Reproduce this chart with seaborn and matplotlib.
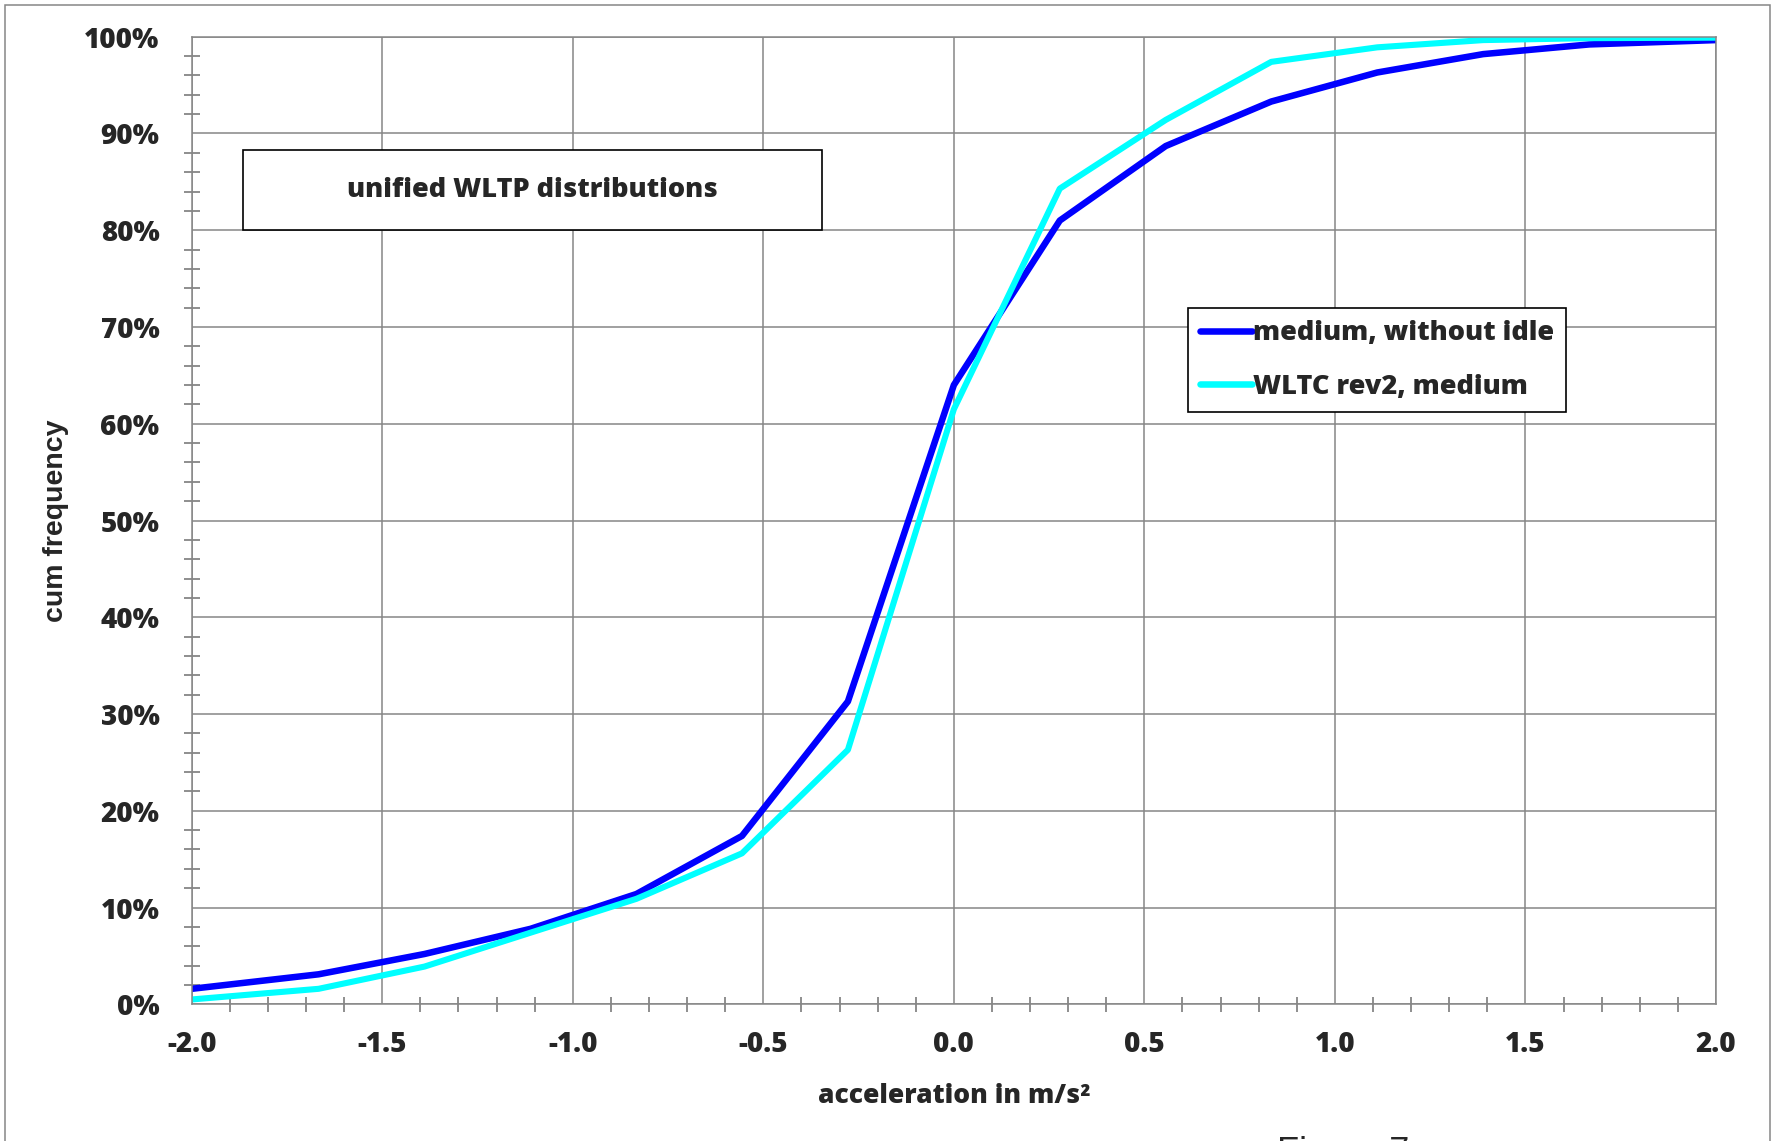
import numpy as np
import pandas as pd
import matplotlib
matplotlib.use("Agg")
import matplotlib.pyplot as plt
from matplotlib.ticker import MultipleLocator, PercentFormatter
from matplotlib.patches import Rectangle
import seaborn as sns

# ---- data ----
accel = [-2.0, -1.667, -1.389, -1.111, -0.833, -0.556, -0.278, 0.0,
         0.278, 0.556, 0.833, 1.111, 1.389, 1.667, 2.0]
medium_without_idle = [1.6, 3.1, 5.2, 7.8, 11.4, 17.4, 31.3, 64.0,
                       81.0, 88.7, 93.3, 96.3, 98.2, 99.2, 99.65]
wltc_rev2_medium = [0.5, 1.6, 3.9, 7.4, 10.9, 15.6, 26.3, 61.5,
                    84.3, 91.4, 97.4, 98.9, 99.65, 99.85, 99.9]
series_names = ["medium, without idle", "WLTC rev2, medium"]
series_colors = ["#0000FF", "#00FFFF"]
title_text = "unified WLTP distributions"
x_label = "acceleration in m/s²"
y_label = "cum frequency"

df = pd.DataFrame({
    "accel": accel * 2,
    "cum": medium_without_idle + wltc_rev2_medium,
    "series": [series_names[0]] * len(accel) + [series_names[1]] * len(accel),
})

sns.set_theme(style="white")
plt.rcParams["font.family"] = ["Open Sans", "DejaVu Sans"]
FW = 800

W, H = 1776, 1141
fig = plt.figure(figsize=(W / 100, H / 100), dpi=100)
ax = fig.add_axes([191.7 / W, 1 - 1004.3 / H, (1716 - 191.7) / W, (1004.3 - 36.7) / H])

sns.lineplot(data=df, x="accel", y="cum", hue="series", hue_order=series_names,
             palette=series_colors, ax=ax, linewidth=4.7, legend=False,
             sort=False, estimator=None)
ax.lines[1].set_linewidth(4.4)

ax.set_xlim(-2, 2)
ax.set_ylim(0, 100)
ax.xaxis.set_major_locator(MultipleLocator(0.5))
ax.xaxis.set_minor_locator(MultipleLocator(0.1))
ax.yaxis.set_major_locator(MultipleLocator(10))
ax.yaxis.set_minor_locator(MultipleLocator(2))
ax.yaxis.set_major_formatter(PercentFormatter(xmax=100, decimals=0))
ax.xaxis.set_major_formatter(matplotlib.ticker.FormatStrFormatter("%.1f"))

gc = "#868686"
ax.grid(True, which="major", color=gc, linewidth=1.1)
ax.set_axisbelow(True)
for s in ax.spines.values():
    s.set_color(gc)
    s.set_linewidth(1.1)

ax.tick_params(axis="x", which="major", direction="inout", length=13, width=1.3,
               color=gc, pad=12, labelsize=20)
ax.tick_params(axis="x", which="minor", direction="inout", length=10.8, width=1.3,
               color=gc, bottom=True)
ax.tick_params(axis="y", which="major", direction="out", length=7.2, width=1.3,
               color=gc, pad=16, labelsize=20)
ax.tick_params(axis="y", which="minor", direction="inout", length=11.5, width=1.3,
               color=gc, left=True)
for lab in ax.get_xticklabels() + ax.get_yticklabels():
    lab.set_fontweight(FW)

ax.set_xlabel(x_label, fontsize=19, fontweight=FW, labelpad=17)
ax.set_ylabel(y_label, fontsize=20.5, fontweight="bold",
              family=["Liberation Sans", "DejaVu Sans"], labelpad=11)

# title box
bx0, bx1, by0, by1 = -1.865, -0.346, 80.0, 88.3
ax.add_patch(Rectangle((bx0, by0), bx1 - bx0, by1 - by0, facecolor="white",
                       edgecolor="black", linewidth=1.2, zorder=5))
ax.text((bx0 + bx1) / 2, (by0 + by1) / 2, title_text, ha="center", va="center",
        fontsize=19.5, fontweight=FW, zorder=6)

# legend
handles = [plt.Line2D([], [], color=c, linewidth=4.7, solid_capstyle="round")
           for c in series_colors]
leg = ax.legend(handles, series_names, loc="upper left",
                bbox_to_anchor=((1188.3 - 191.7) / (1716 - 191.7), 1 - (308.3 - 36.7) / (1004.3 - 36.7)),
                prop={"family": "Open Sans", "weight": FW, "size": 19.5},
                frameon=True, fancybox=False, framealpha=1, edgecolor="black",
                borderpad=0.44, handlelength=1.9, handletextpad=0.05,
                labelspacing=1.02, borderaxespad=0)
leg.get_frame().set_linewidth(1.2)

# figure border
fig.patches.append(Rectangle((5 / W, -0.01), (1770 - 5) / W, 1.01 - 5 / H,
                             transform=fig.transFigure, fill=False,
                             edgecolor=gc, linewidth=1.1))
fig.text(1277 / W, 1 - 1136 / H, "Figure 7", ha="left", va="top",
         fontsize=26, family=["Liberation Sans", "DejaVu Sans"])

fig.savefig("out.png", dpi=100)
